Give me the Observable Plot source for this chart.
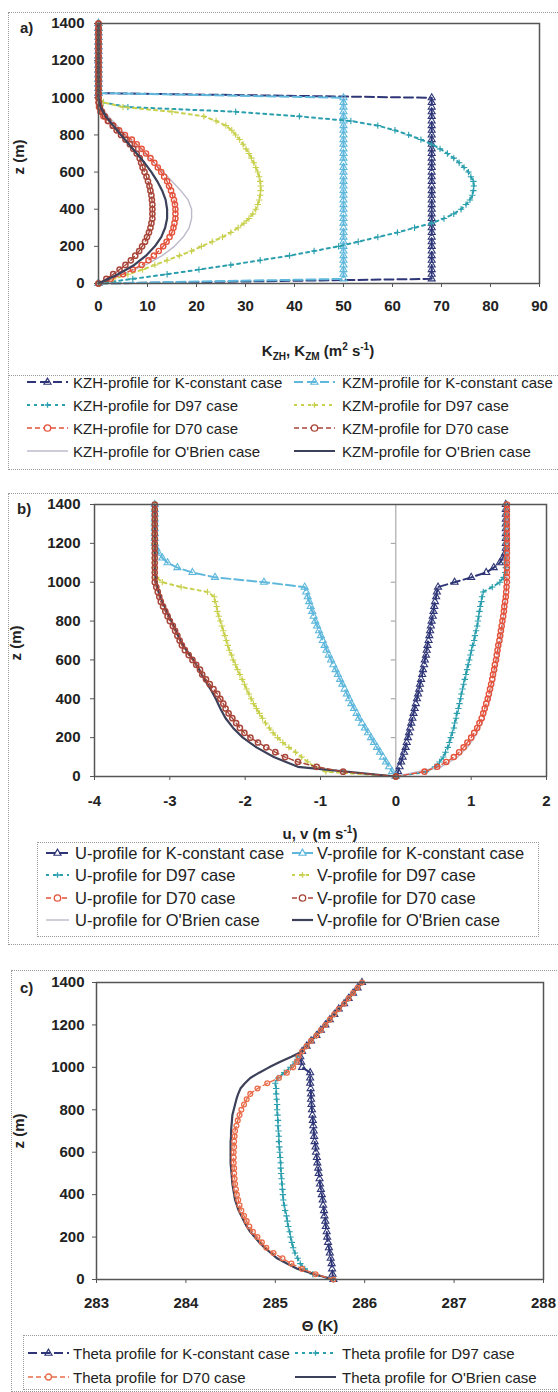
<!DOCTYPE html>
<html><head><meta charset="utf-8">
<script src="https://cdn.jsdelivr.net/npm/d3@7"></script>
<script src="https://cdn.jsdelivr.net/npm/@observablehq/plot@0.6"></script>
<style>
body{margin:0;background:#fff;font-family:"Liberation Sans",Arial,sans-serif;color:#222;}
#page{position:relative;width:558px;height:1392px;overflow:hidden;background:#fff;}
.box{position:absolute;border:1px dotted #9a9a9a;}
.ttl{position:absolute;font-weight:bold;font-size:15px;white-space:nowrap;transform:translate(-50%,-50%);line-height:1;}
.ylab{position:absolute;font-weight:bold;font-size:15px;white-space:nowrap;transform:translate(-50%,-50%) rotate(-90deg);line-height:1;}
.pan{position:absolute;font-weight:bold;font-size:15px;line-height:1;}
.lt{position:absolute;white-space:nowrap;line-height:1;transform:translateY(-50%);}
.plot{position:absolute;left:0;}
svg g[aria-label="x-axis tick label"] text, svg g[aria-label="y-axis tick label"] text{font-weight:bold;}
sub,sup{font-size:10px;line-height:0;}
</style></head>
<body><div id="page"></div>
<script>
// ---------- vertical levels (m) ----------
const z25 = [0,25,50,75,100,125,150,175,200,225,250,275,300,325,350,375,400,425,450,475,500,525,550,575,600,625,650,675,700,725,750,775,800,825,850,875,900,925,950,975,1000,1025,1050,1075,1100,1125,1150,1175,1200,1225,1250,1275,1300,1325,1350,1375,1400];
const z50 = [0,50,100,150,200,250,300,350,400,450,500,550,600,650,700,750,800,850,900,950,1000,1050,1100,1150,1200,1250,1300,1350,1400];
const zTicks = [0,200,400,600,800,1000,1200,1400];
const kTicks = [0,10,20,30,40,50,60,70,80,90];
const uvTicks = [-4,-3,-2,-1,0,1,2];
const thTicks = [283,284,285,286,287,288];

// ---------- panel a: eddy coefficients (m2 s-1) ----------
const kzhConst = [0,68,68,68,68,68,68,68,68,68, 68,68,68,68,68,68,68,68,68,68, 68,68,68,68,68,68,68,68,68,68, 68,68,68,68,68,68,68,68,68,68, 68,0,0,0,0,0,0,0,0,0, 0,0,0,0,0,0,0];
const kzmConst = [0,50,50,50,50,50,50,50,50,50, 50,50,50,50,50,50,50,50,50,50, 50,50,50,50,50,50,50,50,50,50, 50,50,50,50,50,50,50,50,50,50, 50,0,0,0,0,0,0,0,0,0, 0,0,0,0,0,0,0];
const kzhD97 = [0,7,14,20.5,27,33,39,44,49,53, 57,61,64.5,68,70.5,72.5,74,75,75.8,76.3, 76.5,76.6,76.5,76,75.5,74.6,73.6,72.5,71.2,69.7, 68,65.8,63.3,60.5,57,51.5,41,28,6,1, 0,0,0,0,0,0,0,0,0,0, 0,0,0,0,0,0,0];
const kzmD97 = [0,3,6,9,11.5,14,16.5,19,21,23.2, 25.3,27,28.5,29.7,30.7,31.5,32.1,32.5,32.8,33, 33.1,33.1,33,32.8,32.5,32.1,31.7,31.2,30.7,30.1, 29.5,28.8,28,27.2,26,24,21.5,15,5,1, 0,0,0,0,0,0,0,0,0,0, 0,0,0,0,0,0,0];
const kzhD70 = [0,2.5,5,7,8.8,10.2,11.3,12.3,13.2,13.9, 14.5,15,15.3,15.5,15.7,15.7,15.7,15.6,15.4,15.1, 14.8,14.4,14,13.4,12.8,12.1,11.4,10.6,9.7,8.8, 7.8,6.8,5.4,4.2,3,1.9,1,0.4,0.1,0, 0,0,0,0,0,0,0,0,0,0, 0,0,0,0,0,0,0];
const kzmD70 = [0,1.6,3,4.3,5.5,6.6,7.5,8.3,8.9,9.5, 9.9,10.3,10.6,10.8,11,11,11,11,10.9,10.8, 10.6,10.4,10.1,9.8,9.4,9,8.7,8.4,7.8,7.1, 6.4,5.5,4.6,3.7,2.9,2,1.3,0.7,0.3,0.1, 0,0,0,0,0,0,0,0,0,0, 0,0,0,0,0,0,0];
const kzhOB = [0,5,9.6,13,15.5,17.3,18.5,19,19,18.3, 16.8,15,13.2,11.3,9.4,7.5,5.6,3.8,2,0.6, 0,0,0,0,0,0,0,0,0];
const kzmOB = [0,4,7.3,9.7,11.5,12.8,13.6,14,14,13.7, 13,12,10.8,9.4,7.8,6.2,4.6,3,1.5,0.4, 0,0,0,0,0,0,0,0,0];

// ---------- panel b: wind components (m s-1) ----------
const uConst = [0,0.03,0.05,0.07,0.09,0.11,0.13,0.145,0.16,0.175, 0.19,0.205,0.22,0.235,0.25,0.265,0.28,0.295,0.31,0.32, 0.335,0.35,0.36,0.375,0.385,0.4,0.41,0.42,0.435,0.445, 0.455,0.465,0.475,0.49,0.5,0.51,0.52,0.535,0.545,0.56, 0.78,1.0,1.2,1.3,1.38,1.42,1.45,1.46,1.46,1.46, 1.46,1.46,1.46,1.46,1.46,1.46,1.46];
const vConst = [0,-0.05,-0.09,-0.13,-0.17,-0.21,-0.25,-0.29,-0.33,-0.37, -0.41,-0.45,-0.49,-0.52,-0.555,-0.59,-0.62,-0.65,-0.68,-0.71, -0.74,-0.77,-0.8,-0.83,-0.86,-0.89,-0.92,-0.945,-0.97,-0.995, -1.02,-1.045,-1.07,-1.09,-1.11,-1.13,-1.15,-1.17,-1.19,-1.21, -1.75,-2.4,-2.7,-2.9,-3.03,-3.1,-3.15,-3.18,-3.2,-3.2, -3.2,-3.2,-3.2,-3.2,-3.2,-3.2,-3.2];
const uD97 = [0,0.4,0.52,0.58,0.63,0.66,0.69,0.71,0.73,0.75, 0.77,0.78,0.8,0.81,0.83,0.845,0.86,0.87,0.885,0.9, 0.915,0.93,0.945,0.96,0.975,0.99,1.005,1.02,1.04,1.05, 1.065,1.08,1.09,1.1,1.11,1.12,1.135,1.145,1.16,1.28, 1.38,1.43,1.45,1.46,1.46,1.46,1.46,1.46,1.46,1.46, 1.46,1.46,1.46,1.46,1.46,1.46,1.46];
const vD97 = [0,-0.93,-1.08,-1.17,-1.25,-1.33,-1.42,-1.5,-1.57,-1.63, -1.68,-1.73,-1.77,-1.81,-1.85,-1.89,-1.92,-1.95,-1.98,-2.01, -2.04,-2.07,-2.1,-2.13,-2.16,-2.18,-2.21,-2.23,-2.25,-2.27, -2.29,-2.31,-2.33,-2.35,-2.37,-2.38,-2.4,-2.41,-2.5,-2.85, -3.1,-3.18,-3.2,-3.2,-3.2,-3.2,-3.2,-3.2,-3.2,-3.2, -3.2,-3.2,-3.2,-3.2,-3.2,-3.2,-3.2];
const uD70 = [0,0.38,0.55,0.67,0.77,0.84,0.9,0.95,1.0,1.04, 1.08,1.11,1.14,1.16,1.18,1.2,1.22,1.235,1.25,1.265, 1.28,1.29,1.305,1.315,1.33,1.34,1.35,1.36,1.375,1.385, 1.395,1.405,1.415,1.425,1.435,1.44,1.45,1.46,1.465,1.47, 1.475,1.475,1.475,1.475,1.475,1.475,1.475,1.475,1.475,1.475, 1.475,1.475,1.475,1.475,1.475,1.475,1.475];
const vD70 = [0,-0.7,-1.05,-1.3,-1.47,-1.6,-1.72,-1.83,-1.93,-2.01, -2.07,-2.12,-2.17,-2.22,-2.26,-2.29,-2.33,-2.37,-2.42,-2.47, -2.52,-2.57,-2.6,-2.65,-2.7,-2.75,-2.8,-2.84,-2.87,-2.9, -2.93,-2.96,-3.0,-3.03,-3.06,-3.09,-3.12,-3.14,-3.16,-3.18, -3.2,-3.2,-3.2,-3.2,-3.2,-3.2,-3.2,-3.2,-3.2,-3.2, -3.2,-3.2,-3.2,-3.2,-3.2,-3.2,-3.2];
const uOB = [0,0.6,0.82,0.95,1.04,1.11,1.17,1.21,1.25,1.28, 1.31,1.33,1.35,1.37,1.39,1.41,1.42,1.44,1.45,1.46, 1.47,1.475,1.475,1.475,1.475,1.475,1.475,1.475,1.475];
const vOB = [0,-1.3,-1.62,-1.85,-2.03,-2.16,-2.26,-2.33,-2.39,-2.46, -2.54,-2.61,-2.69,-2.78,-2.86,-2.92,-2.98,-3.04,-3.1,-3.15, -3.18,-3.2,-3.2,-3.2,-3.2,-3.2,-3.2,-3.2,-3.2];

// ---------- panel c: potential temperature (K) ----------
const thConst = [285.65,285.64,285.635,285.63,285.62,285.61,285.6,285.59,285.58,285.575, 285.565,285.56,285.55,285.545,285.535,285.53,285.52,285.51,285.5,285.495, 285.485,285.48,285.47,285.465,285.455,285.45,285.44,285.435,285.43,285.425, 285.42,285.415,285.41,285.405,285.4,285.4,285.395,285.39,285.39,285.39, 285.3,285.29,285.28,285.3,285.35,285.4,285.46,285.51,285.56,285.61, 285.66,285.71,285.77,285.82,285.87,285.92,285.97];
const thD97 = [285.65,285.42,285.33,285.28,285.25,285.22,285.2,285.185,285.17,285.16, 285.145,285.135,285.125,285.11,285.1,285.09,285.085,285.08,285.075,285.07, 285.065,285.06,285.06,285.055,285.05,285.045,285.04,285.04,285.035,285.03, 285.03,285.025,285.02,285.02,285.015,285.01,285.01,285.0,285.03,285.1, 285.17,285.22,285.25,285.3,285.35,285.4,285.46,285.51,285.56,285.61, 285.66,285.71,285.77,285.82,285.87,285.92,285.97];
const thD70 = [285.65,285.45,285.3,285.18,285.08,284.98,284.9,284.85,284.8,284.75, 284.71,284.68,284.65,284.62,284.6,284.585,284.57,284.56,284.55,284.545, 284.54,284.54,284.535,284.535,284.535,284.54,284.54,284.545,284.55,284.565, 284.58,284.6,284.62,284.65,284.68,284.72,284.8,284.91,285.04,285.13, 285.2,285.24,285.26,285.3,285.35,285.4,285.46,285.51,285.56,285.61, 285.66,285.71,285.77,285.82,285.87,285.92,285.97];
const thOB = [285.65,285.44,285.25,285.13,285.02,284.95,284.88,284.82,284.77,284.72, 284.68,284.65,284.62,284.59,284.57,284.55,284.54,284.53,284.52,284.515, 284.51,284.505,284.5,284.5,284.5,284.5,284.5,284.505,284.505,284.51, 284.515,284.52,284.535,284.55,284.565,284.585,284.61,284.66,284.72,284.82, 284.93,285.05,285.18,285.3,285.35,285.4,285.46,285.51,285.56,285.61, 285.66,285.71,285.77,285.82,285.87,285.92,285.97];

// ---------- legend labels ----------
const legA = ["KZH-profile for K-constant case","KZM-profile for K-constant case","KZH-profile for D97 case","KZM-profile for D97 case","KZH-profile for D70 case","KZM-profile for D70 case","KZH-profile for O'Brien case","KZM-profile for O'Brien case"];
const legB = ["U-profile for K-constant case","V-profile for K-constant case","U-profile for D97 case","V-profile for D97 case","U-profile for D70 case","V-profile for D70 case","U-profile for O'Brien case","V-profile for O'Brien case"];
const legC = ["Theta profile for K-constant case","Theta profile for D97 case","Theta profile for D70 case","Theta profile for O'Brien case"];

// ---------- styles ----------
const C = {navy:"#2f3677", sky:"#5fb8dc", teal:"#2b9fad", lime:"#c8d04e", red:"#e4523c", brick:"#a9463a", grey:"#bcbbcc", dark:"#3c4058", orange:"#e86c4a"};
const ST = {
  constH:{color:C.navy, w:2, dash:"9,4", symbol:"triangle", r:2.6, fill:"none"},
  constM:{color:C.sky, w:2, dash:"9,4", symbol:"triangle", r:2.6, fill:"none"},
  d97H:{color:C.teal, w:2, dash:"3,4", symbol:"plus", r:2.2},
  d97M:{color:C.lime, w:2, dash:"3,4", symbol:"plus", r:2.2},
  d70H:{color:C.red, w:1.4, dash:"5,3", symbol:"circle", r:2.6, fill:"none", mw:1.4},
  d70M:{color:C.brick, w:1.4, dash:"5,3", symbol:"circle", r:2.6, fill:"none", mw:1.5},
  obH:{color:C.grey, w:1.4},
  obM:{color:C.dark, w:2.2},
  d70T:{color:C.orange, w:1.4, dash:"5,3", symbol:"circle", r:2.4, fill:"none", mw:1.3}
};

function rows(z, v){ return z.map((zz,i)=>({z:zz, v:v[i]})); }
function marks(z, v, s){
  const d = rows(z, v);
  const out = [Plot.line(d, {x:"v", y:"z", stroke:s.color, strokeWidth:s.w, strokeDasharray:s.dash})];
  if (s.symbol) out.push(Plot.dot(d, {x:"v", y:"z", symbol:s.symbol, r:s.r, stroke:s.color, fill:s.fill||"none", strokeWidth:s.mw||1.1}));
  return out;
}
const fmt = d => String(d);
const pstyle = {fontFamily:"'Liberation Sans', Arial, sans-serif", fontSize:"15px", color:"#222", background:"none", overflow:"visible"};

const page = document.getElementById("page");
function add(html){ page.insertAdjacentHTML("beforeend", html); }
function place(svg, top){ svg.classList.add("plot"); svg.style.top = top + "px"; page.appendChild(svg); }

function markerSvg(s, cx, cy){
  if (!s.symbol) return "";
  const r = s.r + 0.6;
  if (s.symbol === "triangle") return `<polygon points="${cx},${cy-r*1.2} ${cx-r*1.1},${cy+r*0.7} ${cx+r*1.1},${cy+r*0.7}" fill="none" stroke="${s.color}" stroke-width="1.2"/>`;
  if (s.symbol === "circle") return `<circle cx="${cx}" cy="${cy}" r="${r}" fill="#fff" stroke="${s.color}" stroke-width="1.3"/>`;
  return `<path d="M${cx-r},${cy}H${cx+r}M${cx},${cy-r}V${cy+r}" stroke="${s.color}" stroke-width="1.3"/>`;
}
function legend(labels, styles, rowsY, sx, sw, tx, fs){
  labels.forEach((lab, i) => {
    const r = Math.floor(i/2), c = i % 2, y = rowsY[r], s = styles[i];
    add(`<svg style="position:absolute;left:${sx[c]}px;top:${y-7}px;overflow:visible" width="${sw[c]}" height="14"><line x1="0" y1="7" x2="${sw[c]}" y2="7" stroke="${s.color}" stroke-width="${s.w}" ${s.dash?`stroke-dasharray="${s.dash}"`:""}/>${markerSvg(s, sw[c]/2, 7)}</svg>`);
    add(`<div class="lt" style="left:${tx[c]}px;top:${y}px;font-size:${fs}px">${lab}</div>`);
  });
}

// ================= Panel a =================
add(`<div class="box" style="left:8px;top:12px;width:600px;height:456px"></div>`);
add(`<div style="position:absolute;left:8px;top:375px;width:600px;border-top:1px dotted #9a9a9a"></div>`);
const plotA = Plot.plot({
  width:558, height:348, marginTop:11, marginBottom:77, marginLeft:98, marginRight:19,
  x:{domain:[0,90]}, y:{domain:[0,1400]}, style:pstyle,
  marks:[
    Plot.axisX({ticks:kTicks, tickSize:4, tickPadding:13, tickFormat:fmt, label:null, stroke:"#555"}),
    Plot.axisY({ticks:zTicks, tickSize:4, tickPadding:10, tickFormat:fmt, label:null, stroke:"#555"}),
    ...marks(z25, kzhConst, ST.constH),
    ...marks(z25, kzmConst, ST.constM),
    ...marks(z25, kzhD97, ST.d97H),
    ...marks(z25, kzmD97, ST.d97M),
    ...marks(z50, kzhOB, ST.obH),
    ...marks(z25, kzhD70, ST.d70H),
    ...marks(z25, kzmD70, ST.d70M),
    ...marks(z50, kzmOB, ST.obM),
    Plot.frame({stroke:"#555", strokeWidth:1.5})
  ]
});
place(plotA, 12);
add(`<div class="pan" style="left:20px;top:20px">a)</div>`);
add(`<div class="ylab" style="left:18px;top:157px">z (m)</div>`);
add(`<div class="ttl" style="left:318px;top:350px">K<sub>ZH</sub>, K<sub>ZM</sub> (m<sup>2</sup> s<sup>-1</sup>)</div>`);
legend(legA, [ST.constH, ST.constM, ST.d97H, ST.d97M, ST.d70H, ST.d70M, ST.obH, ST.obM], [382,405,428,451], [27,294], [41,41], [73,342], 15);

// ================= Panel b =================
add(`<div class="box" style="left:8px;top:493px;width:600px;height:450px"></div>`);
add(`<div class="box" style="left:37px;top:842px;width:500px;height:93px"></div>`);
const plotB = Plot.plot({
  width:558, height:337, marginTop:11, marginBottom:54, marginLeft:94, marginRight:12,
  x:{domain:[-4,2]}, y:{domain:[0,1400]}, style:pstyle,
  marks:[
    Plot.ruleX([0], {stroke:"#9a9a9a", strokeWidth:1}),
    Plot.ruleY(zTicks.slice(1), {x1:-0.06, x2:0, stroke:"#9a9a9a"}),
    Plot.axisX({ticks:uvTicks, tickSize:4, tickPadding:15, tickFormat:fmt, label:null, stroke:"#555"}),
    Plot.axisY({ticks:zTicks, tickSize:4, tickPadding:10, tickFormat:fmt, label:null, stroke:"#555"}),
    ...marks(z25, uConst, ST.constH),
    ...marks(z25, vConst, ST.constM),
    ...marks(z25, uD97, ST.d97H),
    ...marks(z25, vD97, ST.d97M),
    ...marks(z50, uOB, ST.obH),
    ...marks(z50, vOB, ST.obM),
    ...marks(z25, uD70, ST.d70H),
    ...marks(z25, vD70, ST.d70M),
    Plot.frame({stroke:"#555", strokeWidth:1.5})
  ]
});
place(plotB, 493);
add(`<div class="pan" style="left:17px;top:501px">b)</div>`);
add(`<div class="ylab" style="left:15px;top:643px">z (m)</div>`);
add(`<div class="ttl" style="left:320px;top:833px">u, v (m s<sup>-1</sup>)</div>`);
legend(legB, [ST.constH, ST.constM, ST.d97H, ST.d97M, ST.d70H, ST.d70M, ST.obH, ST.obM], [853,875,898,920], [46,292], [23,21], [75,317], 16.5);

// ================= Panel c =================
add(`<div class="box" style="left:11px;top:970px;width:600px;height:420px"></div>`);
add(`<div class="box" style="left:23px;top:1335px;width:600px;height:53px"></div>`);
const plotC = Plot.plot({
  width:558, height:349, marginTop:12, marginBottom:40, marginLeft:96, marginRight:15,
  x:{domain:[283,288]}, y:{domain:[0,1400]}, style:pstyle,
  marks:[
    Plot.axisX({ticks:thTicks, tickSize:4, tickPadding:14, tickFormat:fmt, label:null, stroke:"#555"}),
    Plot.axisY({ticks:zTicks, tickSize:4, tickPadding:8, tickFormat:fmt, label:null, stroke:"#555"}),
    ...marks(z25, thConst, ST.constH),
    ...marks(z25, thD97, ST.d97H),
    ...marks(z25, thOB, ST.obM),
    ...marks(z25, thD70, ST.d70T),
    Plot.frame({stroke:"#555", strokeWidth:1.5})
  ]
});
place(plotC, 970);
add(`<div class="pan" style="left:20px;top:980px">c)</div>`);
add(`<div class="ylab" style="left:18px;top:1131px">z (m)</div>`);
add(`<div class="ttl" style="left:320px;top:1325px;font-weight:bold">Θ (K)</div>`);
legend(legC, [ST.constH, ST.d97H, ST.d70T, ST.obM], [1353,1377], [28,295], [41,41], [73,342], 15);
</script>
</body></html>
